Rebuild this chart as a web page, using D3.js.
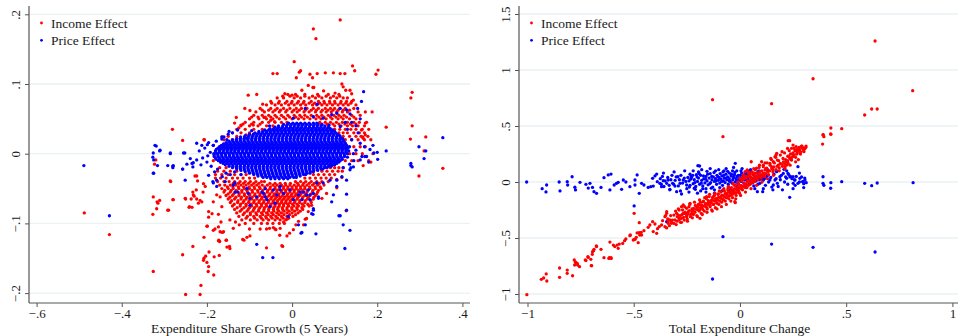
<!DOCTYPE html>
<html>
<head>
<meta charset="utf-8">
<script src="https://cdn.jsdelivr.net/npm/d3@7"></script>
<style>
  body { margin: 0; background: #fff; }
  svg text { font-family: "Liberation Serif", "DejaVu Serif", serif; fill: #1a1a1a; }
</style>
</head>
<body>
<svg id="chart" width="958" height="336"></svg>
<script>
// series names / colours
var seriesNames = ["Income Effect", "Price Effect"];
var seriesColors = ["#ff0000", "#0000ff"];

// tick values
var leftXTicks = [-.6, -.4, -.2, 0, .2, .4];
var leftYTicks = [-.2, -.1, 0, .1, .2];
var rightXTicks = [-1, -.5, 0, .5, 1];
var rightYTicks = [-1, -.5, 0, .5, 1, 1.5];

var leftXTitle = "Expenditure Share Growth (5 Years)";
var rightXTitle = "Total Expenditure Change";

// ---- left panel, income effect: scattered points [x, y]
var leftIncome = [[.113,.192],[.050,.179],[.056,.165],[.005,.132],[.142,.126],[.147,.119],[.202,.120],[.197,.114],[-.045,.115],[-.035,.115],[.017,.117],[.020,.119],[.010,.109],[.042,.114],[.048,.109],[.059,.115],[.078,.116],[.097,.116],[.113,.115],[.124,.115],[.117,.100],[.120,.096],[.038,.098],[.051,.095],[-.103,.084],[-.083,.085],[-.111,.065],[-.099,.062],[-.069,.071],[-.131,.052],[-.135,.044],[-.125,.037],[-.120,.041],[-.091,.041],[-.108,.027],[-.066,.052],[-.050,.048],[-.041,.046],[-.017,.086],[0,.084],[.023,.091],[.049,.095],[.074,.090],[.101,.087],[.126,.091],[.136,.091],[.140,.086],[.172,.060],[.188,.060],[.144,.077],[.172,.044],[.172,.027],[.166,.024],[-.257,.019],[-.207,.020],
  [.282,.088],[.279,.080],[.221,.038],[.282,.040],[.278,.021],[.314,.024],[.310,.004],[.298,-.032],[.354,-.021],[.163,.034],[.167,.022],[.185,.020],[.172,.010],[.167,-.017],[.185,-.012],[.117,-.034],[.105,-.037],[.105,-.049],[.127,-.082],[.081,-.057],[.070,-.064],[.046,-.074],[.038,-.083],[.031,-.094],[.034,-.060],
  [-.488,-.085],[-.429,-.116],[-.281,.035],[-.320,-.009],[-.323,-.015],[-.286,-.039],[-.326,-.062],[-.311,-.067],[-.315,-.071],[-.318,-.079],[-.327,-.087],[-.279,-.066],[-.292,-.081],[-.326,-.169],[-.257,-.145],[-.233,-.133],[-.250,-.202],[-.216,-.202],[-.214,-.189],[-.207,-.150],[-.208,-.153],[-.203,-.147],[-.195,-.141],[-.200,-.156],[-.196,-.162],[-.197,-.169],[-.184,-.174],[-.183,-.148],[-.171,-.146],[-.207,-.120],[-.172,-.124],[-.170,-.126],[-.155,-.124],[-.147,-.133],[-.200,-.104],[-.181,-.108],[-.169,-.112],[-.164,-.113],[-.154,-.124],
  [-.250,-.065],[-.237,-.065],[-.230,-.061],[-.224,-.065],[-.235,-.077],[-.242,-.077],[-.220,-.071],[-.216,-.067],[-.224,-.032],[-.222,-.039],[-.225,-.052],[-.233,-.055],[-.209,-.055],[-.208,-.043],[-.204,-.047],[-.206,.020],[-.164,.024],[-.228,-.032],
  [-.173,-.125],[-.153,-.134],[-.146,-.136],[-.116,-.123],[-.113,-.124],[-.106,-.120],[-.099,-.118],[-.060,-.135],[-.024,-.132],[-.022,-.133],[-.029,-.117],[-.012,-.118],[-.006,-.114],[-.053,-.107],[-.038,-.109],[-.044,-.106],[-.028,-.107],[-.020,-.098],[-.012,-.094],[.003,-.109],[.009,-.102],[.015,-.097],[.027,-.102],[.034,-.093],
  [-.317,-.069],[-.290,-.081],[-.280,-.066],[-.285,-.040],[-.251,-.064],[-.232,-.059],[-.241,-.076],[-.212,-.069],[-.196,-.083],[-.196,-.091],[-.199,-.104],[-.188,-.086],[-.185,-.069],[-.177,-.059],[-.169,-.062],[-.165,-.076],[-.173,-.087],[-.161,-.112],[-.173,-.105],[-.185,-.110],[-.167,-.098],[-.146,-.095],[-.133,-.098],[-.124,-.102],[-.138,-.107]];

// left panel, income effect: dense band rows [y, [x...]]
var leftIncomeRows = [
  [.085, [-.01,.008,.03,.06,.085,.11]],
  [.0825, [-.022,-.005,.012,.03,.048,.063,.08,.097,.112]],
  [.080, [-.035,-.02,.005,.02,.04,.055,.07,.09,.105,.12,.13]],
  [.075, [-.05,-.03,-.012,0,.015,.028,.045,.062,.075,.088,.1,.115,.128,.14]],
  [.0725, [-.048,-.032,-.016,-.002,.012,.026,.04,.053,.065,.076,.089,.101,.114,.126,.138]],
  [.070, [-.06,-.04,-.025,-.008,.005,.02,.032,.048,.058,.07,.082,.095,.108,.12,.132,.15]],
  [.065, [-.075,-.05,-.035,-.02,-.005,.01,.022,.035,.05,.062,.078,.09,.1,.112,.125,.145]],
  [.0625, [-.07,-.055,-.04,-.027,-.012,.004,.017,.031,.045,.057,.071,.084,.096,.108,.12,.135]],
  [.060, [-.085,-.065,-.045,-.03,-.015,0,.012,.028,.04,.055,.068,.08,.092,.105,.118,.13,.155]],
  [.055, [-.09,-.07,-.055,-.04,-.025,-.01,.005,.018,.03,.045,.058,.07,.085,.098,.11,.122,.14,.16]],
  [.0525, [-.095,-.08,-.063,-.05,-.036,-.02,-.006,.009,.022,.036,.05,.063,.075,.09,.103,.115,.128,.145]],
  [.050, [-.1,-.078,-.06,-.045,-.03,-.015,0,.015,.028,.042,.056,.068,.08,.094,.108,.12,.135,.15]],
  [.045, [-.11,-.09,-.07,-.055,-.04,-.025,-.012,.065,.078,.09,.104,.118,.13,.145,.158,.175]],
  [.0425, [-.115,-.095,-.075,.07,.083,.096,.11,.124,.137,.15]],
  [.040, [-.12,-.1,-.08,-.06,-.045,.085,.1,.115,.13,.142,.155,.17]],
  [.035, [-.13,-.11,-.09,-.07,.1,.112,.125,.138,.15,.165,.18]],
  [.030, [-.14,-.12,-.1,.11,.12,.13,.145,.158,.17]],
  [.025, [-.15,-.13,.12,.135,.15,.162,.178]],
  [.020, [-.16,-.14,.125,.14,.155,.17]],
  [.010, [-.17,.13,.145,.16]],
  [.000, [-.18,.135,.15,.165,.19]],
  [-.010, [-.185,.125,.14,.155,.18]],
  [-.020, [-.17,-.155,.09,.1,.11,.12]],
  [-.025, [-.175,-.16,-.145,-.13,.07,.082,.095,.108,.118]],
  [-.030, [-.18,-.165,-.15,-.135,-.12,-.108,.05,.062,.075,.088,.1]],
  [-.035, [-.18,-.168,-.155,-.14,-.128,-.115,-.1,-.088,.03,.042,.055,.068,.08,.092]],
  [-.040, [-.175,-.16,-.148,-.135,-.122,-.11,-.098,-.085,-.072,-.065,.008,.02,.032,.045,.058,.07,.085]],
  [-.0425, [-.138,-.126,-.114,-.102,-.09,-.078,-.052,-.04,-.028,-.016,-.004,.013,.027,.04,.052,.064]],
  [-.045, [-.17,-.158,-.145,-.132,-.12,-.108,-.095,-.083,-.07,-.058,-.045,-.035,-.025,-.015,-.005,.005,.015,.025,.035,.048,.06,.075]],
  [-.0475, [-.152,-.139,-.126,-.114,-.101,-.089,-.077,-.064,-.051,-.04,-.03,-.02,-.01,0,.01,.02,.03,.041,.054,.066]],
  [-.050, [-.165,-.15,-.138,-.125,-.112,-.1,-.088,-.075,-.063,-.052,-.04,-.03,-.02,-.01,0,.01,.02,.03,.042,.055,.068]],
  [-.0525, [-.158,-.143,-.131,-.118,-.106,-.094,-.081,-.069,-.057,-.046,-.035,-.025,-.015,-.005,.005,.015,.025,.036,.049,.062]],
  [-.055, [-.16,-.145,-.132,-.118,-.105,-.093,-.08,-.07,-.058,-.047,-.036,-.025,-.015,-.005,.005,.015,.025,.035,.048,.06]],
  [-.0575, [-.15,-.137,-.124,-.112,-.099,-.087,-.075,-.064,-.052,-.041,-.031,-.02,-.01,0,.01,.021,.032,.045,.058]],
  [-.060, [-.155,-.14,-.125,-.112,-.1,-.088,-.076,-.065,-.054,-.043,-.032,-.022,-.012,-.002,.008,.018,.03,.042,.055]],
  [-.0625, [-.146,-.132,-.119,-.106,-.094,-.082,-.07,-.059,-.048,-.037,-.027,-.017,-.007,.003,.014,.025,.038,.051]],
  [-.065, [-.15,-.135,-.12,-.108,-.095,-.083,-.072,-.06,-.05,-.04,-.03,-.02,-.01,0,.012,.024,.036,.05]],
  [-.0675, [-.142,-.127,-.113,-.101,-.089,-.077,-.066,-.055,-.044,-.034,-.024,-.014,-.004,.007,.018,.031,.044]],
  [-.070, [-.145,-.128,-.115,-.102,-.09,-.078,-.067,-.056,-.045,-.035,-.025,-.015,-.005,.006,.018,.03,.045]],
  [-.0725, [-.136,-.121,-.108,-.096,-.084,-.072,-.061,-.05,-.04,-.03,-.02,-.01,.001,.012,.024,.037]],
  [-.075, [-.14,-.122,-.108,-.095,-.083,-.072,-.06,-.05,-.04,-.03,-.02,-.008,.004,.015,.028,.04]],
  [-.0775, [-.129,-.113,-.1,-.088,-.076,-.065,-.054,-.043,-.033,-.023,-.012,-.001,.011,.023]],
  [-.080, [-.135,-.118,-.103,-.09,-.078,-.066,-.055,-.044,-.034,-.022,-.012,0,.012,.025]],
  [-.0825, [-.122,-.106,-.092,-.079,-.067,-.055,-.043,-.031,-.019,-.007,.006,.019]],
  [-.085, [-.13,-.112,-.098,-.085,-.072,-.06,-.048,-.036,-.025,-.012,0,.014]],
  [-.0875, [-.115,-.098,-.083,-.069,-.056,-.044,-.031,-.019,-.006,.008]],
  [-.090, [-.125,-.105,-.09,-.075,-.062,-.05,-.038,-.025,-.012,.002]],
  [-.0925, [-.108,-.088,-.072,-.06,-.047,-.034,-.021,-.008]],
  [-.095, [-.118,-.098,-.082,-.068,-.055,-.04,-.028,-.015]],
  [-.100, [-.11,-.09,-.072,-.058,-.045,-.03,-.018]],
  [-.108, [-.1,-.075,-.06,-.04]]
];

// ---- left panel, price effect: scattered points
var leftPrice = [[-.489,-.017],[-.429,-.089],[-.322,.012],[-.319,.011],[-.311,.004],[-.327,-.005],[-.325,-.009],[-.316,-.017],[-.325,-.028],[-.286,.001],[-.292,-.017],[-.280,-.020],[-.279,-.017],[-.255,.001],[-.252,.001],[-.257,-.022],[-.247,-.015],[-.233,-.019],[-.224,-.009],[-.214,-.016],[-.239,-.007],[-.232,-.013],[-.165,.021],[-.182,-.026],[-.186,-.040],[-.164,-.033],
  [-.205,.008],[-.198,-.003],[-.21,-.006],[-.2,-.012],[-.192,.002],[-.19,-.018],[-.185,.012],[-.178,.018],[-.175,-.022],[-.17,.006],[-.168,-.012],[-.218,.004],[-.212,.012],[-.196,.016],[-.16,.024],[-.15,.028],[-.155,-.028],[-.145,-.03],[-.148,.032],[-.14,.03],[-.135,-.026],[-.128,.034],[-.12,-.03],
  [-.326,.001],[-.31,.005],[-.286,0],[-.28,-.018],[-.257,-.022],[-.235,-.014],[-.224,.015],[-.326,-.028],[-.251,-.038],[-.185,-.042],[-.196,-.031],[-.177,-.047],[-.157,-.040],[-.134,-.042],[-.134,-.055],[-.127,-.055],[-.106,-.050],[-.099,-.064],[-.103,-.057],
  [-.083,-.062],[-.067,-.057],[-.063,-.050],[-.059,-.066],[-.044,-.052],[-.036,-.059],[-.028,-.047],[-.020,-.057],[-.005,-.052],[.015,-.059],[.023,-.066],[.034,-.059],[.038,-.052],[.058,-.042],[.050,-.057],[.073,-.042],[.089,-.038],[.105,-.047],[.117,-.033],[.128,-.038],[.136,-.023],[.144,-.019],[.160,-.009],[.171,-.004],
  [.015,-.102],[.023,-.113],[.031,-.102],[.056,-.115],[.049,-.087],[.120,-.102],[.136,-.110],[.124,-.136],[.113,-.089],[.128,-.058],[.097,-.059],[.093,-.069],[.062,-.064],[.042,-.059],[.027,-.055],[-.083,-.130],[-.069,-.149],[-.045,-.149],[.050,-.079],[.046,-.086],[.021,-.114],[.110,-.089],
  [.221,.004],[.354,.023],[.298,.010],[.314,.004],[.310,-.007],[.279,-.014],[.282,-.019],[.279,-.017],[.201,-.008],[.192,.001],[.183,.006],[.175,-.004],[.164,-.004],[.144,0],[.138,-.020],[.168,.089],[.163,.075],[.154,.065],[.136,.057],[.128,.063],[.113,.065],[.059,.071],[.031,.065],
  [.135,.01],[.14,.02],[.15,.005],[.155,.03],[.145,-.01],[.16,.015],[.17,.01],[.18,-.012],[.19,.012],[.2,.002],[.13,.035],[.14,.045],[.15,.04],[.16,.05],[.125,.045],[.135,-.015],[.13,-.005],[.12,-.02],
  [-.095,.033],[-.106,.022],[-.165,.024],[-.185,.012],[-.199,.013],[-.153,.020],[-.053,.040],[.003,.051],[.05,.053],[.073,.051],[.093,.056],[.105,.058],[.087,.041],[.113,.039],
  [-.177,-.038],[-.138,-.045],[-.106,-.05],[-.071,-.055],[-.063,-.062],[-.04,-.071],[-.028,-.052],[.003,-.066],[.019,-.055],[.042,-.066],[.062,-.062],[.05,-.081],[.105,-.038],[.128,-.081],[-.009,-.09],[-.099,-.074],[-.052,-.076]];

// left panel, price effect: saturated core rows [y, [x...]]
var leftPriceRows = [
  [.044, [-.008,.002,.011,.02,.03,.04,.05,.058]],
  [.042, [-.02,-.011,-.002,.007,.016,.025,.034,.043,.052,.061,.07]],
  [.040, [-.032,-.022,-.013,-.004,.005,.014,.023,.032,.041,.05,.059,.068,.077]],
  [.038, [-.04,-.031,-.022,-.013,-.004,.005,.014,.023,.032,.041,.05,.059,.068,.077,.086]],
  [.036, [-.052,-.043,-.034,-.025,-.016,-.007,.002,.011,.02,.029,.038,.047,.056,.065,.074,.083,.09]],
  [.034, [-.064,-.055,-.046,-.037,-.028,-.019,-.01,-.001,.008,.017,.026,.035,.044,.053,.062,.071,.08,.089,.096]],
  [.032, [-.078,-.069,-.06,-.051,-.042,-.033,-.024,-.015,-.006,.003,.012,.021,.03,.039,.048,.057,.066,.075,.084,.093,.1]],
  [.030, [-.087,-.078,-.069,-.06,-.051,-.042,-.033,-.024,-.015,-.006,.003,.012,.021,.03,.039,.048,.057,.066,.075,.084,.093,.102]],
  [.028, [-.1,-.091,-.082,-.073,-.064,-.055,-.046,-.037,-.028,-.019,-.01,-.001,.008,.017,.026,.035,.044,.053,.062,.071,.08,.089,.098,.107]],
  [.026, [-.11,-.101,-.092,-.083,-.074,-.065,-.056,-.047,-.038,-.029,-.02,-.011,-.002,.007,.016,.025,.034,.043,.052,.061,.07,.079,.088,.097,.106,.112]],
  [.024, [-.121,-.112,-.103,-.094,-.085,-.076,-.067,-.058,-.049,-.04,-.031,-.022,-.013,-.004,.005,.014,.023,.032,.041,.05,.059,.068,.077,.086,.095,.104,.113]],
  [.022, [-.13,-.121,-.112,-.103,-.094,-.085,-.076,-.067,-.058,-.049,-.04,-.031,-.022,-.013,-.004,.005,.014,.023,.032,.041,.05,.059,.068,.077,.086,.095,.104,.113,.118]],
  [.020, [-.14,-.131,-.122,-.113,-.104,-.095,-.086,-.077,-.068,-.059,-.05,-.041,-.032,-.023,-.014,-.005,.004,.013,.022,.031,.04,.049,.058,.067,.076,.085,.094,.103,.112,.12]],
  [.018, [-.148,-.139,-.13,-.121,-.112,-.103,-.094,-.085,-.076,-.067,-.058,-.049,-.04,-.031,-.022,-.013,-.004,.005,.014,.023,.032,.041,.05,.059,.068,.077,.086,.095,.104,.113,.121]],
  [.016, [-.155,-.146,-.137,-.128,-.119,-.11,-.101,-.092,-.083,-.074,-.065,-.056,-.047,-.038,-.029,-.02,-.011,-.002,.007,.016,.025,.034,.043,.052,.061,.07,.079,.088,.097,.106,.115,.124]],
  [.014, [-.161,-.152,-.143,-.134,-.125,-.116,-.107,-.098,-.089,-.08,-.071,-.062,-.053,-.044,-.035,-.026,-.017,-.008,.001,.01,.019,.028,.037,.046,.055,.064,.073,.082,.091,.1,.109,.118,.126]],
  [.012, [-.166,-.157,-.148,-.139,-.13,-.121,-.112,-.103,-.094,-.085,-.076,-.067,-.058,-.049,-.04,-.031,-.022,-.013,-.004,.005,.014,.023,.032,.041,.05,.059,.068,.077,.086,.095,.104,.113,.122,.128]],
  [.010, [-.17,-.161,-.152,-.143,-.134,-.125,-.116,-.107,-.098,-.089,-.08,-.071,-.062,-.053,-.044,-.035,-.026,-.017,-.008,.001,.01,.019,.028,.037,.046,.055,.064,.073,.082,.091,.1,.109,.118,.127]],
  [.008, [-.174,-.165,-.156,-.147,-.138,-.129,-.12,-.111,-.102,-.093,-.084,-.075,-.066,-.057,-.048,-.039,-.03,-.021,-.012,-.003,.006,.015,.024,.033,.042,.051,.06,.069,.078,.087,.096,.105,.114,.123,.131]],
  [.006, [-.178,-.169,-.16,-.151,-.142,-.133,-.124,-.115,-.106,-.097,-.088,-.079,-.07,-.061,-.052,-.043,-.034,-.025,-.016,-.007,.002,.011,.02,.029,.038,.047,.056,.065,.074,.083,.092,.101,.11,.119,.128]],
  [.004, [-.18,-.171,-.162,-.153,-.144,-.135,-.126,-.117,-.108,-.099,-.09,-.081,-.072,-.063,-.054,-.045,-.036,-.027,-.018,-.009,0,.009,.018,.027,.036,.045,.054,.063,.072,.081,.09,.099,.108,.117,.126,.133]],
  [.002, [-.179,-.17,-.161,-.152,-.143,-.134,-.125,-.116,-.107,-.098,-.089,-.08,-.071,-.062,-.053,-.044,-.035,-.026,-.017,-.008,.001,.01,.019,.028,.037,.046,.055,.064,.073,.082,.091,.1,.109,.118,.127]],
  [.000, [-.184,-.175,-.166,-.157,-.148,-.139,-.13,-.121,-.112,-.103,-.094,-.085,-.076,-.067,-.058,-.049,-.04,-.031,-.022,-.013,-.004,.005,.014,.023,.032,.041,.05,.059,.068,.077,.086,.095,.104,.113,.122,.13]],
  [-.002, [-.183,-.174,-.165,-.156,-.147,-.138,-.129,-.12,-.111,-.102,-.093,-.084,-.075,-.066,-.057,-.048,-.039,-.03,-.021,-.012,-.003,.006,.015,.024,.033,.042,.051,.06,.069,.078,.087,.096,.105,.114,.123]],
  [-.004, [-.183,-.174,-.165,-.156,-.147,-.138,-.129,-.12,-.111,-.102,-.093,-.084,-.075,-.066,-.057,-.048,-.039,-.03,-.021,-.012,-.003,.006,.015,.024,.033,.042,.051,.06,.069,.078,.087,.096,.105,.114,.123]],
  [-.006, [-.18,-.171,-.162,-.153,-.144,-.135,-.126,-.117,-.108,-.099,-.09,-.081,-.072,-.063,-.054,-.045,-.036,-.027,-.018,-.009,0,.009,.018,.027,.036,.045,.054,.063,.072,.081,.09,.099,.108,.117]],
  [-.008, [-.178,-.169,-.16,-.151,-.142,-.133,-.124,-.115,-.106,-.097,-.088,-.079,-.07,-.061,-.052,-.043,-.034,-.025,-.016,-.007,.002,.011,.02,.029,.038,.047,.056,.065,.074,.083,.092,.101,.11,.118]],
  [-.010, [-.173,-.164,-.155,-.146,-.137,-.128,-.119,-.11,-.101,-.092,-.083,-.074,-.065,-.056,-.047,-.038,-.029,-.02,-.011,-.002,.007,.016,.025,.034,.043,.052,.061,.07,.079,.088,.097,.106,.113]],
  [-.012, [-.168,-.159,-.15,-.141,-.132,-.123,-.114,-.105,-.096,-.087,-.078,-.069,-.06,-.051,-.042,-.033,-.024,-.015,-.006,.003,.012,.021,.03,.039,.048,.057,.066,.075,.084,.093,.102,.11]],
  [-.014, [-.162,-.153,-.144,-.135,-.126,-.117,-.108,-.099,-.09,-.081,-.072,-.063,-.054,-.045,-.036,-.027,-.018,-.009,0,.009,.018,.027,.036,.045,.054,.063,.072,.081,.09,.099,.105]],
  [-.016, [-.157,-.148,-.139,-.13,-.121,-.112,-.103,-.094,-.085,-.076,-.067,-.058,-.049,-.04,-.031,-.022,-.013,-.004,.005,.014,.023,.032,.041,.05,.059,.068,.077,.086,.095,.1]],
  [-.018, [-.148,-.139,-.13,-.121,-.112,-.103,-.094,-.085,-.076,-.067,-.058,-.049,-.04,-.031,-.022,-.013,-.004,.005,.014,.023,.032,.041,.05,.059,.068,.077,.086,.092]],
  [-.020, [-.14,-.131,-.122,-.113,-.104,-.095,-.086,-.077,-.068,-.059,-.05,-.041,-.032,-.023,-.014,-.005,.004,.013,.022,.031,.04,.049,.058,.067,.076,.082]],
  [-.022, [-.13,-.121,-.112,-.103,-.094,-.085,-.076,-.067,-.058,-.049,-.04,-.031,-.022,-.013,-.004,.005,.014,.023,.032,.041,.05,.059,.068,.072]],
  [-.024, [-.12,-.111,-.102,-.093,-.084,-.075,-.066,-.057,-.048,-.039,-.03,-.021,-.012,-.003,.006,.015,.024,.033,.042,.051,.06]],
  [-.026, [-.11,-.101,-.092,-.083,-.074,-.065,-.056,-.047,-.038,-.029,-.02,-.011,-.002,.007,.016,.025,.034,.043,.05]],
  [-.028, [-.1,-.091,-.082,-.073,-.064,-.055,-.046,-.037,-.028,-.019,-.01,-.001,.008,.017,.026,.035,.042]],
  [-.030, [-.09,-.081,-.072,-.063,-.054,-.045,-.036,-.027,-.018,-.009,0,.009,.018,.027,.032]],
  [-.032, [-.08,-.071,-.062,-.053,-.044,-.035,-.026,-.017,-.008,.001,.01,.019]],
  [-.034, [-.068,-.059,-.05,-.041,-.032,-.023,-.014,-.005,.004,.01]],
  [-.036, [-.05,-.04,-.03,-.02,-.01]]
];

// ---- right panel, income effect
var rightIncome = [[.636,1.259],[.344,.922],[.813,.815],[-.129,.735],[.149,.699],[.620,.652],[.646,.652],[.587,.598],[.428,.482],[.479,.476],[.428,.426],[.391,.422],[.395,.405],[.389,.339],[-.080,.405],[.234,.369],[.427,.429],[.392,.420],
  [-1.003,-1.006],[-.935,-.869],[-.924,-.857],[-.912,-.821],[-.909,-.884],[-.849,-.768],[-.849,-.851],[-.813,-.786],[-.813,-.815],[-.788,-.837],[-.775,-.714],[-.778,-.741],[-.766,-.726],[-.755,-.756],[-.728,-.696],[-.716,-.667],[-.700,-.747],[-.689,-.613],[-.695,-.646],[-.676,-.571],[-.654,-.601],[-.640,-.676],[-.617,-.682],[-.606,-.682],
  [-.780,-.696],[-.772,-.720],[-.764,-.741],[-.725,-.702],[-.714,-.673],[-.702,-.690],[-.698,-.747],[-.694,-.622],[-.687,-.601],[-.675,-.577],[-.615,-.676],[-.607,-.676],[-.612,-.536],[-.596,-.563],[-.589,-.577],[-.578,-.563],[-.573,-.592],[-.568,-.554],[-.552,-.548],[-.543,-.524],[-.537,-.509],[-.518,-.479],[-.502,-.518],[-.494,-.512],[-.479,-.542],[-.484,-.455],[-.474,-.363],[-.474,-.452],[-.463,-.473],[-.452,-.435],[-.432,-.405],[-.424,-.384],[-.411,-.354],[-.400,-.375],[-.408,-.443],[-.392,-.458],[-.388,-.417],[-.380,-.399],[-.369,-.384],[-.364,-.345],[-.353,-.310],[-.345,-.280],[-.338,-.369],[-.330,-.339],[-.322,-.354],[-.311,-.295],[-.298,-.280],[-.286,-.250],[-.275,-.220],[-.267,-.205],[-.251,-.235],[-.235,-.190],[-.498,-.280],[-.516,-.473],[-.496,-.512],[-.488,-.494],[-.472,-.473],[-.465,-.449],
  [-.016,-.065],[-.028,-.027],[-.039,-.086],[-.055,-.056],[-.063,-.101],[-.078,-.071],[-.086,-.125],[-.102,-.107],[-.110,-.146],[-.126,-.131],[-.133,-.161],[-.149,-.167],[-.157,-.131],[-.173,-.176],[-.188,-.205],[-.196,-.250],[-.204,-.220],[-.220,-.250],[-.227,-.280],[-.243,-.265],[-.251,-.310],[-.267,-.280],[-.275,-.324],[-.290,-.295],[-.306,-.339],[-.322,-.369],[-.338,-.354],[-.353,-.399],[-.188,-.324],[-.024,-.176],[-.345,-.265],
  [.227,.369],[.243,.301],[.264,.315],[.279,.309],[.290,.321],[.301,.301],[.311,.321],[.301,.271],[.282,.256],[.267,.250],[.251,.232],[.243,.196],[.227,.167],[.220,.152],[.212,.137],[.235,.212],[.259,.279],[.275,.286],[.173,.256],[.165,.226],[.176,.196],[.157,.181],[.141,.167],[.149,.137],[.126,.123],[.110,.137],[.118,.107],[.094,.092],[.078,.123],[.102,.181],[.086,.077],[.063,.063],[.047,.083],[.034,.107],[.024,.092],[.016,.063],[0,.033],[.039,.047],[.053,.181],[-.022,-.185],
  [-.295,-.31],[-.285,-.335],[-.28,-.3],[-.272,-.29],[-.265,-.315],[-.258,-.27],[-.25,-.3],[-.245,-.285],[-.238,-.255],[-.232,-.29],[-.225,-.26],[-.218,-.235],[-.212,-.27],[-.205,-.245],[-.198,-.225],[-.192,-.26],[-.185,-.23],[-.18,-.205],[-.175,-.245],[-.168,-.215],[-.162,-.19],[-.158,-.225],[-.152,-.2],[-.146,-.18],[-.14,-.21],[-.135,-.185],[-.13,-.16],[-.125,-.2],[-.12,-.17],[-.115,-.15],[-.11,-.185],[-.105,-.16],[-.1,-.135],[-.095,-.17],[-.09,-.145],[-.085,-.12],[-.08,-.155],[-.075,-.13],[-.07,-.105],[-.065,-.14],[-.06,-.115],[-.055,-.09],[-.05,-.125],[-.045,-.1],[-.04,-.075],[-.035,-.11],[-.03,-.085],[-.025,-.06],[-.02,-.095],[-.015,-.07],[-.01,-.045],[-.005,-.08],[0,-.055],[.005,-.03],[.01,-.065],[.015,-.04],[.02,-.01],[.025,-.05],[.03,-.02],[.035,.005],[.04,-.03],[.045,0],[.05,.02],[.055,-.01],[.06,.015],[.065,.035],[.07,.005],[.075,.03],[.08,.05],[.085,.02],[.09,.045],[.095,.065],[.1,.035],[.105,.06],[.11,.08],[.115,.05],[.12,.075],[.13,.09],[.135,.065],[.14,.1],[.15,.12],[.155,.09],[.16,.135],[.17,.11],[.18,.15],[.185,.125],[.19,.165],[.2,.14],[.205,.18],[.21,.16],[.215,.2],[.225,.19],[.23,.23],[.238,.25],[.245,.22],[.25,.26],[.255,.24],[.262,.28],[.27,.27],[.28,.29],[.285,.27],[.295,.3],[.3,.28],[.31,.31],
  [.045,.06],[.06,.07],[.03,.04],[.02,.03],[.07,.08],[.01,.02],
  [-.35,-.3],[-.345,-.41],[-.34,-.33],[-.332,-.39],[-.326,-.3],[-.318,-.34],[-.31,-.37],[-.303,-.26],[-.296,-.35],[-.288,-.32],[-.28,-.36],[-.27,-.25],[-.262,-.34],[-.255,-.28],[-.248,-.33],[-.24,-.22],[-.233,-.31],[-.226,-.24],[-.219,-.29],[-.21,-.21],[-.203,-.3],[-.196,-.2],
  [-.19,-.25],[-.186,-.18],[-.182,-.28],[-.178,-.22],[-.172,-.17],[-.168,-.26],[-.163,-.2],[-.158,-.15],[-.154,-.24],[-.15,-.19],[-.145,-.13],[-.141,-.22],[-.137,-.17],[-.133,-.25],[-.129,-.14],[-.124,-.2],[-.12,-.12],[-.116,-.23],[-.112,-.16],[-.107,-.19],[-.103,-.11],[-.099,-.2],[-.095,-.14],[-.09,-.09],[-.086,-.18],[-.082,-.12],[-.078,-.16],[-.073,-.08],[-.069,-.17],[-.065,-.11],[-.061,-.14],[-.057,-.07],[-.052,-.15],[-.048,-.09],[-.044,-.12],[-.04,-.05],[-.035,-.14],[-.031,-.07],[-.027,-.1],[-.022,-.03],[-.018,-.12],[-.014,-.06],[-.01,-.09],[-.006,-.02],[-.002,-.1],
  [.004,-.04],[.008,.01],[.012,-.07],[.018,.03],[.022,-.02],[.028,.05],[.033,-.05],[.038,.01],[.043,.07],[.048,-.02],[.053,.04],[.058,.09],[.063,0],[.068,.06],[.073,.11],[.078,.03],[.083,.08],[.09,.13],[.096,.05],[.103,.1],[.11,.15],[.116,.07],[.122,.12],[.128,.17],[.135,.1],[.142,.15],[.148,.2],[.155,.11],[.162,.17],[.168,.22],[.175,.14],[.182,.19],[.19,.24],[.196,.16],[.203,.21],[.21,.26],[.218,.18],[.225,.23],[.232,.28],[.24,.2],[.248,.25],[.255,.3],[.262,.22],[.27,.29],[.278,.31],[.285,.25],[.292,.32],[.3,.29],[.306,.3],
  [-.3,-.38],[-.29,-.24],[-.275,-.36],[-.26,-.22],[-.247,-.35],[-.236,-.2],[-.224,-.32],[-.214,-.18],[-.2,-.31],[-.19,-.16],[-.177,-.29],[-.166,-.14],[-.155,-.27],[-.143,-.11],[-.13,-.26],[-.118,-.1],[-.108,-.24],[-.097,-.08],[-.087,-.22],[-.076,-.06],[-.064,-.2],[-.054,-.04],[-.043,-.17],[-.033,-.01],[-.02,-.15],[-.008,0],[.003,-.12],[.015,.05],[.026,-.09],[.04,.09],[.052,-.06],[.065,.12],[.078,-.03],[.092,.15],[.104,0],[.118,.17],[.13,.03],[.145,.21],[.158,.06],[.17,.24],[.185,.1],[.198,.27],[.212,.12],[.224,.3],[.236,.15],[.25,.33],[.262,.18],[.275,.2]];

// ---- right panel, price effect
var rightPrice = [[-1.004,0],[-.931,-.060],[-.910,-.027],[-.913,-.089],[-.851,0],[-.847,-.080],[-.813,.003],[-.811,-.027],[-.790,.047],[-.777,-.047],[-.774,-.071],[-.753,-.003],[-.725,-.021],[-.714,-.054],[-.706,-.012],[-.694,-.048],[-.687,-.086],[-.675,-.101],[-.654,-.048],[-.640,.039],[-.620,.063],[-.607,.071],[-.612,-.071],[-.592,-.027],[-.581,-.012],[-.573,-.003],[-.557,-.065],[-.549,.018],[-.537,0],[-.518,-.042],[-.494,.018],[-.484,.063],[-.474,-.101],[-.494,-.027],[-.463,-.012],[-.452,-.027],[-.432,-.048],[-.420,-.042],[-.408,-.036],[-.411,.033],[-.400,.054],[-.392,.071],[-.389,.003],[-.377,-.012],[-.369,-.042],[-.361,.012],[-.345,-.012],[-.338,.018],[-.330,-.065],[-.317,-.012],[-.306,-.036],[-.298,-.086],[-.292,.047],[-.282,-.012],[-.275,-.107],[-.267,.018],[-.251,-.027],[-.259,-.280],[-.345,-.354],[-.498,-.214],
  [.815,-.006],[.646,-.009],[.620,-.033],[.587,-.012],[.479,.003],[.428,-.006],[.427,-.056],[.391,.047],[.391,-.012],[.395,-.030],[.636,-.625],[.344,-.583],[.149,-.554],[-.080,-.488],[-.129,-.866],[.234,-.137],[.306,.018],[.312,-.006],[.297,.003],[.273,-.012],[.257,.018],[.250,.047],[.226,.077],[.239,.047],[.273,.137],[.207,.113],[-.022,.167],[-.190,.143],
  [.295,.003],[.282,.033],[.259,.018],[.251,-.012],[.235,.047],[.220,.033],[.204,.077],[.173,.092],[.165,.018],[.176,-.012],[.188,.047],[.157,-.027],[.141,.018],[.126,.047],[.110,.018],[.102,.063],[.094,-.012],[.107,-.086],[.082,-.086],
  [-.24,.01],[-.235,-.03],[-.228,.04],[-.22,-.015],[-.215,.02],[-.208,-.04],[-.2,.005],[-.195,.035],[-.19,-.02],[-.185,.06],[-.18,.015],[-.175,-.035],[-.17,.03],[-.165,-.008],[-.16,.05],[-.155,.01],[-.15,-.025],[-.145,.035],[-.14,.075],[-.138,-.005],[-.132,.02],[-.128,-.045],[-.125,.045],[-.12,.005],[-.115,.03],[-.11,-.02],[-.108,.06],[-.102,.015],[-.098,.04],[-.095,-.01],[-.09,.025],[-.085,.055],[-.082,-.03],[-.078,.01],[-.075,.035],[-.07,-.005],[-.066,.07],[-.062,.02],[-.058,.045],[-.055,-.02],[-.05,.03],[-.046,.005],[-.042,.055],[-.038,-.01],[-.034,.02],[-.03,.04],[-.026,.065],[-.022,0],[-.018,.03],[-.014,.05],[-.01,-.015],[-.006,.015],[-.002,.035],[.002,.06],[.006,.005],[.01,.025],[.014,.045],[.018,-.01],[.022,.02],[.026,.04],[.03,.07],[.034,.01],[.038,.03],[.042,-.02],[.046,.05],[.05,.015],[.055,.035],[.06,-.005],[.065,.025],[.07,.055],[.075,.01],[.08,.035],[.085,-.02],[.09,.02],[-.23,.055],[-.205,.065],[-.16,-.06],[-.12,-.07],[-.08,.09],[-.05,.08],[-.015,.1],[.025,.085],[-.21,-.065],[-.185,-.08],[-.25,-.06],[-.198,.146],
  [-.375,.03],[-.37,-.02],[-.365,.05],[-.358,-.04],[-.352,.01],[-.34,.04],[-.333,-.03],[-.325,.02],[-.32,.06],[-.312,-.02],[-.305,.015],[-.3,.045],[-.29,-.035],[-.285,.02],[-.278,.06],[-.27,-.01],[-.262,.035],[-.255,.005],[-.245,.04],[-.238,-.045],
  [-.232,.025],[-.222,.06],[-.212,-.005],[-.202,.045],[-.192,.075],[-.182,-.01],[-.172,.055],[-.162,.025],[-.152,.07],[-.142,-.015],[-.133,.05],[-.122,.085],[-.113,.01],[-.104,.045],[-.093,.075],[-.086,.005],[-.076,.06],[-.068,.035],[-.058,.095],[-.05,.01],[-.04,.07],[-.032,.045],[-.024,.085],[-.016,.02],[-.008,.06],[0,.03],[.008,.08],[.016,.04],[.024,.065],[.032,.02],[.04,.055],[.048,.09],[.056,.03],[.064,.07],[.072,.04],[.08,.08],[.088,.05],[.096,.025],[.104,.04],
  [.115,.03],[.12,-.03],[.13,.06],[.135,0],[.145,.04],[.15,-.045],[.16,.07],[.17,.03],[.18,-.04],[.19,.02],[.195,.06],[.21,0],[.215,.045],[.225,-.02],[.23,.065],[.245,.03],[.26,-.03],[.265,.05],[.28,0],[.29,.045],[.3,-.015],[.305,.035],
  [-.36,.08],[-.33,-.07],[-.31,.09],[-.28,-.08],[-.26,.1],[-.24,-.09],[-.22,.1],[-.2,-.1],[-.18,.11],[-.16,-.09],[-.14,.12],[-.12,-.1],[-.1,.11],[-.085,-.08],[-.065,.12],[-.045,-.07],[-.03,.13],[-.01,-.06],[.01,.12],[.03,-.05],[.05,.11],[.07,-.06],[.09,.1],[.11,-.06],[.13,.11],[.155,-.07],[.17,.1],[.2,-.07],[.22,.1],[.25,-.06],[.28,.08],[.3,-.05],
  [-.235,.07],[-.215,-.055],[-.195,.09],[-.175,-.06],[-.155,.095],[-.135,-.055],[-.115,.1],[-.095,-.05],[-.075,.1],[-.055,-.045],[-.035,.1],[-.015,-.04],[.005,.1],[.025,-.035],[.045,.1],[.065,-.035],[.085,.09]];

function expandRows(rows) {
  var out = [];
  rows.forEach(function (r) { r[1].forEach(function (x) { out.push([x, r[0]]); }); });
  return out;
}

// stata-like tick label: -.2 -> "−.2", 0.5 -> ".5"
function fmt(d) {
  if (d === 0) return "0";
  var s = String(Math.abs(d)).replace(/^0\./, ".");
  return (d < 0 ? "\u2212" : "") + s;
}

var svg = d3.select("#chart");
var axisColor = "#555";
var gridColor = "#eaf2f3";

function drawPanel(p) {
  var g = svg.append("g");
  var x = d3.scaleLinear().domain(p.xDomain).range(p.xRange);
  var y = d3.scaleLinear().domain(p.yDomain).range(p.yRange);

  // gridlines
  g.selectAll("line.grid").data(p.yTicks).enter().append("line")
    .attr("x1", p.frame[0]).attr("x2", p.frame[1])
    .attr("y1", function (d) { return y(d); }).attr("y2", function (d) { return y(d); })
    .attr("stroke", gridColor).attr("stroke-width", 1.3);

  // points
  p.series.forEach(function (s) {
    g.append("g").selectAll("circle").data(s.data).enter().append("circle")
      .attr("cx", function (d) { return x(d[0]); })
      .attr("cy", function (d) { return y(d[1]); })
      .attr("r", 1.65)
      .attr("fill", s.color);
  });

  // axes
  var xAxis = g.append("g").attr("transform", "translate(0," + p.frame[3] + ")")
    .call(d3.axisBottom(x).tickValues(p.xTicks).tickFormat(fmt).tickSize(4).tickPadding(2));
  xAxis.select(".domain").remove();
  xAxis.selectAll("line").attr("stroke", axisColor);
  xAxis.selectAll("text").style("font-family", "Liberation Serif").style("font-size", "13px").attr("fill", "#1a1a1a");

  var yAxis = g.append("g").attr("transform", "translate(" + p.frame[0] + ",0)")
    .call(d3.axisLeft(y).tickValues(p.yTicks).tickFormat(fmt).tickSize(4));
  yAxis.select(".domain").remove();
  yAxis.selectAll("line").attr("stroke", axisColor);
  yAxis.selectAll("text")
    .attr("transform", "rotate(-90)")
    .attr("x", 0).attr("y", -9).attr("dy", 0)
    .style("text-anchor", "middle")
    .style("font-family", "Liberation Serif").style("font-size", "13px").attr("fill", "#1a1a1a");

  // frame lines (left and bottom)
  g.append("line").attr("x1", p.frame[0]).attr("x2", p.frame[0]).attr("y1", p.frame[2]).attr("y2", p.frame[3])
    .attr("stroke", axisColor).attr("stroke-width", 1.2);
  g.append("line").attr("x1", p.frame[0]).attr("x2", p.frame[1]).attr("y1", p.frame[3]).attr("y2", p.frame[3])
    .attr("stroke", axisColor).attr("stroke-width", 1.2);

  // x title
  g.append("text").attr("x", (p.frame[0] + p.frame[1]) / 2).attr("y", 333)
    .attr("text-anchor", "middle").style("font-size", "13.5px").text(p.title);

  // legend
  var lg = g.append("g").attr("transform", "translate(" + (p.frame[0] + 12.5) + ",23)");
  seriesNames.forEach(function (name, i) {
    lg.append("circle").attr("cx", 0).attr("cy", i * 17.3).attr("r", 1.4).attr("fill", seriesColors[i]);
    lg.append("text").attr("x", 9.5).attr("y", i * 17.3 + 4.5).style("font-size", "13.5px").text(name);
  });
}

// left panel: blue drawn over red
drawPanel({
  xDomain: [-.6, .4], xRange: [36.6, 462.4],
  yDomain: [-.2, .2], yRange: [293.1, 14.3],
  frame: [29, 470, 6, 303],
  xTicks: leftXTicks, yTicks: leftYTicks, title: leftXTitle,
  series: [
    { data: leftIncome.concat(expandRows(leftIncomeRows)), color: seriesColors[0] },
    { data: leftPrice.concat(expandRows(leftPriceRows)), color: seriesColors[1] }
  ]
});

// right panel: red drawn over blue
drawPanel({
  xDomain: [-1, 1], xRange: [527.5, 952.4],
  yDomain: [-1, 1.5], yRange: [294, 14],
  frame: [519, 960, 6, 303],
  xTicks: rightXTicks, yTicks: rightYTicks, title: rightXTitle,
  series: [
    { data: rightPrice, color: seriesColors[1] },
    { data: rightIncome, color: seriesColors[0] }
  ]
});
</script>
</body>
</html>
